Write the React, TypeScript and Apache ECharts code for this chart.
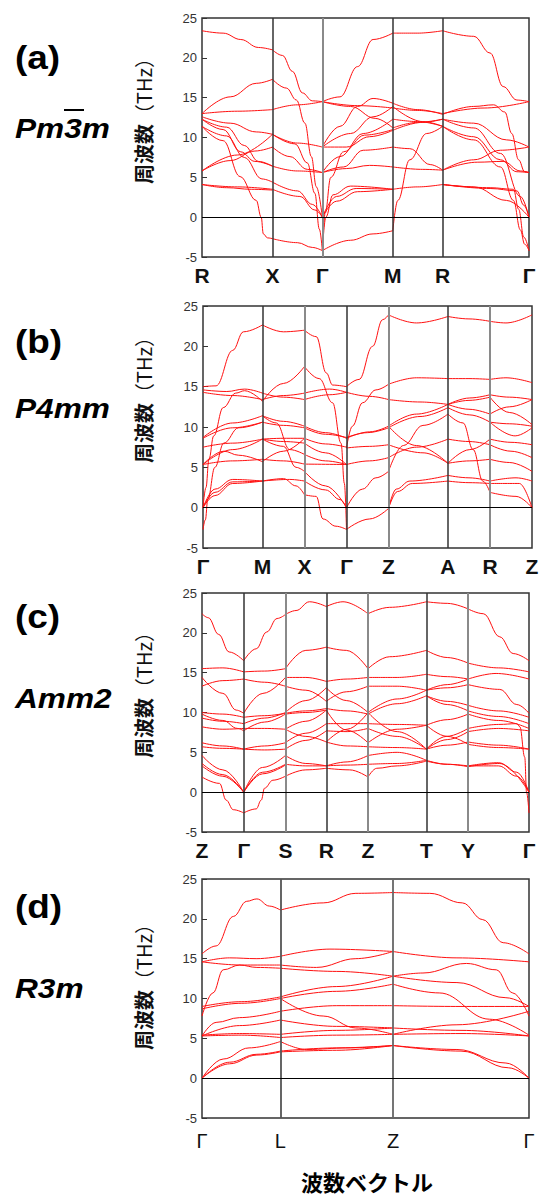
import React, { useEffect, useRef } from "react";
import * as echarts from "echarts";

// ---------- axis values ----------
const freqMin = -5;
const freqMax = 25;
const freqStep = 5;

// ---------- panel (a) Pm-3m ----------
const aLabels = ["R", "X", "Γ", "M", "R", "Γ"];
const aKpos = [0, 0.707, 1.207, 1.914, 2.414, 3.28];
// points are [segment + fraction, frequency THz]
const aSegRX = [
  [[0, 23.4], [0.3, 23.1], [0.55, 22.3], [0.8, 21.3], [1, 21.0]],
  [[0, 13.0], [0.4, 15.1], [0.77, 16.8], [1, 17.3]],
  [[0, 13.0], [0.5, 13.3], [1, 13.5]],
  [[0, 12.6], [0.4, 11.8], [0.77, 10.7], [1, 10.4]],
  [[0, 12.3], [0.35, 11.3], [0.6, 9.0], [0.8, 7.0], [1, 6.4]],
  [[0, 12.3], [0.3, 11.0], [0.55, 8.2], [0.75, 7.0], [1, 6.4]],
  [[0, 11.4], [0.35, 10.2], [0.6, 7.5], [0.85, 4.8], [1, 4.4]],
  [[0, 11.4], [0.3, 9.6], [0.54, 5.1], [0.77, 2.1], [0.84, 0], [0.87, -2.1], [0.93, -2.6], [1, -2.7]],
  [[0, 5.8], [0.5, 7.8], [1, 10.4]],
  [[0, 5.8], [0.4, 7.1], [0.75, 8.3], [1, 8.8]],
  [[0, 4.1], [0.5, 3.8], [1, 3.5]],
  [[0, 4.1], [0.35, 3.7], [0.7, 3.5], [1, 3.4]],
];
const aSegXG = [
  [[1, 21.0], [1.2, 20.3], [1.4, 18.3], [1.6, 15.6], [1.8, 14.6], [2, 14.5]],
  [[1, 17.3], [1.28, 16.2], [1.48, 14.7], [1.65, 11.8], [1.78, 7.6], [1.88, 3.8], [2, 0]],
  [[1, 13.5], [1.5, 14.1], [2, 14.5]],
  [[1, 10.4], [1.5, 9.3], [2, 8.8]],
  [[1, 8.8], [1.35, 7.6], [1.7, 6.0], [2, 5.6]],
  [[1, 6.4], [1.5, 5.8], [2, 5.6]],
  [[1, 4.4], [1.5, 3.3], [1.8, 1.6], [2, 0]],
  [[1, 3.5], [1.55, 2.6], [1.85, 0.9], [2, 0]],
  [[1, -2.7], [1.5, -3.2], [1.8, -3.8], [2, -4.2]],
  [[1, 10.4], [1.45, 9.2], [1.7, 6.8], [1.85, 3.0], [1.94, -1.5], [2, -4.2]],
];
const aSegGM = [
  [[2, 14.5], [2.25, 15.1], [2.5, 18.9], [2.72, 22.3], [3, 23.1]],
  [[2, 14.5], [2.5, 14.0], [3, 13.7]],
  [[2, 14.5], [2.4, 13.9], [2.75, 12.4], [3, 11.2]],
  [[2, 8.8], [2.25, 11.4], [2.5, 13.9], [2.72, 14.9], [3, 14.3]],
  [[2, 8.8], [2.4, 10.5], [2.72, 12.6], [3, 13.9]],
  [[2, 8.8], [2.34, 8.8], [2.67, 10.1], [3, 10.9]],
  [[2, 5.6], [2.3, 6.3], [2.58, 8.4], [3, 8.8]],
  [[2, 5.6], [2.34, 6.1], [2.67, 6.5], [3, 6.3]],
  [[2, 5.6], [2.25, 7.6], [2.58, 10.5], [3, 12.3]],
  [[2, 0], [2.2, 2.6], [2.48, 3.6], [3, 3.5]],
  [[2, 0], [2.2, 2.0], [2.5, 3.2], [3, 3.5]],
  [[2, -4.2], [2.05, 0], [2.15, 2.8], [2.4, 3.9], [3, 3.5]],
  [[2, -4.2], [2.4, -2.9], [2.72, -2.1], [3, -1.7]],
  [[2, -4.2], [2.04, 0.5], [2.12, 5.0], [2.3, 8.2], [2.6, 10.3], [3, 11.0]],
];
const aSegMR = [
  [[3, 23.1], [3.5, 23.1], [4, 23.4]],
  [[3, -1.7], [3.1, 2.1], [3.34, 7.2], [3.68, 10.5], [4, 11.4]],
  [[3, 3.5], [3.5, 3.8], [4, 4.1]],
  [[3, 6.3], [3.6, 6.0], [4, 5.9]],
  [[3, 8.8], [3.34, 8.6], [3.75, 6.6], [4, 5.9]],
  [[3, 10.9], [3.6, 11.9], [4, 12.3]],
  [[3, 11.2], [3.5, 11.9], [4, 12.3]],
  [[3, 12.3], [3.5, 12.0], [4, 11.4]],
  [[3, 13.7], [3.5, 13.4], [4, 13.0]],
  [[3, 14.3], [3.5, 13.5], [4, 12.9]],
  [[3, 13.9], [3.6, 12.0], [4, 11.4]],
];
const aSegRG = [
  [[4, 23.4], [4.36, 22.7], [4.55, 20.6], [4.7, 16.4], [4.86, 14.7], [5, 14.5]],
  [[4, 13.0], [4.48, 13.7], [5, 14.5]],
  [[4, 12.9], [4.36, 13.9], [4.59, 14.1], [4.72, 13.2], [4.8, 10.5], [4.88, 7.2], [4.95, 5.7], [5, 5.6]],
  [[4, 12.3], [4.36, 11.8], [4.74, 9.7], [5, 8.8]],
  [[4, 12.3], [4.36, 11.2], [4.67, 8.0], [4.9, 2.6], [5, 0]],
  [[4, 11.4], [4.36, 10.1], [4.67, 7.2], [4.86, 5.7], [5, 5.6]],
  [[4, 11.4], [4.36, 9.7], [4.67, 6.3], [4.82, 2.1], [4.9, -1.6], [4.95, -3.4], [5, -4.2]],
  [[4, 5.9], [4.36, 7.2], [4.67, 8.4], [5, 8.8]],
  [[4, 4.1], [4.36, 3.8], [4.74, 2.1], [5, 0]],
  [[4, 4.1], [4.55, 3.6], [4.86, 3.3], [4.94, 1.5], [5, 0]],
  [[4, 4.1], [4.55, 3.7], [4.82, 3.5], [4.88, 1.0], [4.94, -2.5], [5, -4.2]],
  [[4, 5.9], [4.4, 6.9], [4.7, 7.0], [4.9, 5.8], [5, 5.6]],
];

// ---------- panel (b) P4mm ----------
const bLabels = ["Γ", "M", "X", "Γ", "Z", "A", "R", "Z"];
const bKpos = [0, 0.707, 1.207, 1.707, 2.207, 2.914, 3.414, 3.914];
const bSegGM = [
  [[0, 15.0], [0.22, 15.1], [0.5, 19.5], [0.68, 21.8], [1, 22.65]],
  [[0, 14.6], [0.4, 14.4], [0.7, 14.7], [1, 14.2]],
  [[0, 14.3], [0.5, 13.9], [1, 13.4]],
  [[0, 0], [0.05, 2.5], [0.1, 6.0], [0.18, 8.9], [0.34, 12.4], [0.55, 14.2], [0.7, 14.5], [1, 13.2]],
  [[0, 8.7], [0.5, 10.5], [1, 11.4]],
  [[0, 8.6], [0.5, 9.9], [1, 10.6]],
  [[0, 7.5], [0.5, 8.0], [1, 8.5]],
  [[0, 5.35], [0.5, 5.8], [1, 6.0]],
  [[0, 5.35], [0.5, 7.2], [1, 8.5]],
  [[0, 5.35], [0.35, 7.0], [0.6, 6.5], [1, 5.7]],
  [[0, 0], [0.2, 2.3], [0.5, 3.5], [1, 3.3]],
  [[0, 0], [0.2, 1.9], [0.5, 3.2], [1, 3.3]],
  [[0, 0], [0.2, 1.5], [0.5, 3.0], [1, 3.3]],
  [[0, -2.7], [0.04, -1.5], [0.08, 1.0], [0.2, 5.0], [0.35, 8.0], [0.6, 9.9], [1, 10.6]],
];
const bSegMX = [
  [[1, 22.65], [1.5, 21.8], [2, 22.0]],
  [[1, 13.2], [1.5, 15.4], [2, 17.5]],
  [[1, 14.2], [1.5, 13.7], [2, 13.4]],
  [[1, 13.4], [1.5, 13.9], [2, 14.2]],
  [[1, 11.4], [1.5, 10.7], [2, 10.1]],
  [[1, 10.6], [1.5, 10.2], [2, 9.9]],
  [[1, 11.4], [1.33, 10.5], [1.65, 7.2], [2, 6.6]],
  [[1, 8.5], [1.5, 8.6], [2, 8.6]],
  [[1, 8.5], [1.5, 8.2], [2, 8.0]],
  [[1, 6.0], [1.5, 5.8], [2, 5.4]],
  [[1, 5.7], [1.5, 7.0], [2, 8.6]],
  [[1, 3.3], [1.65, 3.5], [2, 3.3]],
  [[1, 3.3], [1.5, 3.6], [1.8, 2.7], [2, 1.6]],
  [[1, 8.5], [1.5, 7.6], [1.8, 5.0], [2, 4.5]],
];
const bSegXG = [
  [[2, 22.0], [2.28, 21.2], [2.52, 16.7], [2.67, 15.2], [3, 15.0]],
  [[2, 17.5], [2.35, 16.0], [2.67, 13.0], [2.87, 8.0], [2.95, 3.0], [3, -2.7]],
  [[2, 14.2], [2.6, 14.7], [3, 14.3]],
  [[2, 13.4], [2.6, 14.0], [3, 14.3]],
  [[2, 10.1], [2.5, 9.3], [3, 8.6]],
  [[2, 9.9], [2.5, 9.1], [3, 8.7]],
  [[2, 8.6], [2.5, 7.9], [3, 7.5]],
  [[2, 8.0], [2.5, 6.8], [3, 5.35]],
  [[2, 6.6], [2.5, 5.8], [3, 5.35]],
  [[2, 5.4], [3, 5.35]],
  [[2, 4.5], [2.5, 2.7], [3, 0]],
  [[2, 3.3], [2.5, 2.2], [2.85, 1.0], [3, 0]],
  [[2, 1.6], [2.28, 1.4], [2.44, -1.4], [2.75, -2.3], [3, -2.7]],
];
const bSegGZ = [
  [[3, 15.0], [3.3, 15.9], [3.62, 20.0], [3.86, 23.3], [4, 23.9]],
  [[3, 14.3], [3.55, 13.8], [4, 13.4]],
  [[3, 7.4], [3.14, 10.1], [3.38, 13.0], [3.7, 14.6], [4, 15.3]],
  [[3, 8.6], [3.55, 9.4], [4, 10.1]],
  [[3, 8.7], [3.5, 9.3], [4, 9.9]],
  [[3, 5.35], [3.55, 5.8], [4, 6.2]],
  [[3, 0], [3.38, 2.3], [3.7, 3.7], [4, 4.5]],
  [[3, 7.4], [3.55, 7.6], [4, 7.8]],
  [[3, -2.7], [3.55, -1.4], [4, -0.1]],
];
const bSegZA = [
  [[4, 23.9], [4.47, 22.9], [5, 23.7]],
  [[4, 15.3], [4.47, 16.1], [5, 16.0]],
  [[4, 13.4], [4.53, 13.1], [5, 12.8]],
  [[4, 10.1], [4.47, 11.6], [5, 12.8]],
  [[4, 9.9], [4.53, 11.3], [5, 12.4]],
  [[4, 10.1], [4.47, 7.7], [5, 5.5]],
  [[4, 7.8], [4.58, 6.8], [5, 5.5]],
  [[4, 6.2], [4.47, 7.5], [5, 8.5]],
  [[4, 4.5], [4.25, 7.7], [4.58, 10.2], [5, 11.6]],
  [[4, -0.1], [4.13, 2.3], [4.36, 3.3], [5, 4.0]],
  [[4, -0.1], [4.15, 2.0], [4.4, 3.0], [5, 3.3]],
];
const bSegAR = [
  [[5, 23.7], [5.5, 23.4], [6, 23.1]],
  [[5, 16.0], [5.5, 16.0], [6, 15.9]],
  [[5, 12.8], [5.52, 13.6], [6, 14.0]],
  [[5, 12.8], [5.5, 13.3], [6, 13.7]],
  [[5, 12.4], [5.52, 11.5], [6, 10.6]],
  [[5, 11.6], [5.36, 10.5], [5.6, 7.2], [5.83, 3.3], [6, 1.9]],
  [[5, 5.5], [5.52, 5.8], [6, 6.0]],
  [[5, 5.5], [5.52, 7.2], [6, 8.5]],
  [[5, 8.5], [5.5, 8.2], [6, 7.8]],
  [[5, 4.0], [5.5, 3.7], [6, 3.3]],
  [[5, 3.3], [5.5, 3.1], [6, 3.0]],
  [[5, 12.8], [5.5, 12.2], [6, 11.6]],
];
const bSegRZ = [
  [[6, 23.1], [6.38, 22.9], [7, 23.9]],
  [[6, 15.9], [6.38, 16.1], [7, 15.5]],
  [[6, 14.0], [6.46, 13.7], [7, 13.4]],
  [[6, 13.7], [6.46, 11.8], [7, 10.3]],
  [[6, 10.6], [6.46, 10.4], [7, 10.1]],
  [[6, 10.6], [6.6, 8.9], [7, 9.9]],
  [[6, 8.5], [6.5, 8.1], [7, 7.8]],
  [[6, 7.8], [6.5, 7.0], [7, 6.2]],
  [[6, 6.0], [6.46, 5.6], [7, 4.5]],
  [[6, 3.3], [6.62, 3.7], [7, 3.3]],
  [[6, 1.9], [6.62, 1.4], [7, 0]],
  [[6, 3.0], [6.7, 3.0], [7, 0]],
  [[6, 11.6], [6.46, 12.5], [7, 13.4]],
];

// ---------- panel (c) Amm2 ----------
const cLabels = ["Z", "Γ", "S", "R", "Z", "T", "Y", "Γ"];
const cKpos = [0, 0.5, 1.0, 1.49, 1.99, 2.69, 3.19, 3.92];
const cSegZG = [
  [[0, 22.4], [0.15, 21.9], [0.4, 19.8], [0.65, 17.6], [1, 16.5]],
  [[0, 15.5], [0.5, 15.6], [1, 15.1]],
  [[0, 14.4], [0.5, 12.4], [0.82, 10.3], [1, 9.9]],
  [[0, 13.3], [0.5, 14.0], [1, 14.2]],
  [[0, 10.0], [0.5, 9.8], [1, 9.4]],
  [[0, 9.8], [0.5, 9.0], [0.85, 8.0], [1, 7.7]],
  [[0, 9.3], [0.5, 8.9], [1, 8.6]],
  [[0, 8.2], [0.5, 7.9], [1, 8.0]],
  [[0, 6.2], [0.5, 5.8], [1, 5.4]],
  [[0, 5.7], [0.5, 5.5], [1, 5.4]],
  [[0, 4.6], [0.5, 2.8], [1, 0]],
  [[0, 3.6], [0.5, 2.2], [1, 0]],
  [[0, 3.3], [0.5, 2.0], [1, 0]],
  [[0, 1.9], [0.42, 1.1], [0.58, -1.0], [0.75, -2.2], [1, -2.6]],
];
const cSegGS = [
  [[1, 16.5], [1.3, 18.0], [1.55, 20.1], [1.8, 21.8], [2, 22.3]],
  [[1, 15.1], [1.5, 15.2], [2, 15.5]],
  [[1, 14.2], [1.5, 13.8], [2, 13.3]],
  [[1, 9.9], [1.46, 12.4], [2, 14.4]],
  [[1, 9.4], [1.5, 9.6], [2, 9.9]],
  [[1, 8.6], [1.5, 9.3], [2, 10.0]],
  [[1, 7.7], [1.5, 8.8], [2, 9.8]],
  [[1, 8.0], [1.5, 8.0], [2, 7.9]],
  [[1, 5.4], [1.5, 5.8], [2, 6.2]],
  [[1, 5.4], [1.5, 5.3], [2, 5.4]],
  [[1, 0], [1.45, 3.1], [2, 4.6]],
  [[1, 0], [1.45, 2.5], [2, 3.5]],
  [[1, 0], [1.45, 2.3], [2, 3.4]],
  [[1, -2.6], [1.3, -2.1], [1.42, -1.0], [1.5, 0.5], [1.7, 1.5], [2, 2.0]],
];
const cSegSR = [
  [[2, 22.3], [2.26, 22.8], [2.59, 23.9], [3, 23.3]],
  [[2, 15.5], [2.5, 17.8], [3, 18.2]],
  [[2, 14.4], [2.5, 14.4], [3, 13.9]],
  [[2, 13.3], [2.5, 12.8], [3, 11.4]],
  [[2, 10.0], [2.5, 11.5], [3, 13.1]],
  [[2, 9.9], [2.5, 10.2], [3, 10.5]],
  [[2, 9.8], [2.5, 10.0], [3, 10.3]],
  [[2, 7.9], [2.5, 8.9], [3, 10.3]],
  [[2, 6.2], [2.5, 7.4], [3, 8.6]],
  [[2, 5.4], [2.5, 6.5], [3, 7.7]],
  [[2, 7.9], [2.5, 7.0], [3, 6.3]],
  [[2, 4.6], [2.5, 3.6], [3, 3.3]],
  [[2, 3.5], [2.5, 3.3], [3, 3.3]],
  [[2, 2.0], [2.5, 2.8], [3, 3.0]],
];
const cSegRZ = [
  [[3, 23.3], [3.4, 23.9], [4, 22.4]],
  [[3, 18.2], [3.48, 17.8], [4, 15.5]],
  [[3, 13.9], [3.5, 14.2], [4, 14.4]],
  [[3, 13.1], [3.48, 11.5], [4, 10.0]],
  [[3, 11.4], [3.48, 12.6], [4, 13.3]],
  [[3, 10.5], [3.5, 10.2], [4, 9.8]],
  [[3, 10.3], [3.48, 7.8], [4, 6.2]],
  [[3, 8.6], [3.5, 8.6], [4, 8.6]],
  [[3, 7.7], [3.5, 7.6], [4, 8.0]],
  [[3, 6.3], [3.5, 7.9], [4, 10.0]],
  [[3, 6.3], [3.5, 5.8], [4, 5.7]],
  [[3, 3.3], [3.5, 3.8], [4, 4.6]],
  [[3, 3.3], [3.5, 3.4], [4, 3.5]],
  [[3, 3.0], [3.56, 2.8], [4, 1.9]],
];
const cSegZT = [
  [[4, 22.4], [4.37, 23.2], [5, 23.9]],
  [[4, 15.5], [4.37, 17.0], [5, 17.8]],
  [[4, 14.4], [4.5, 14.4], [5, 14.8]],
  [[4, 13.3], [4.5, 13.3], [5, 12.8]],
  [[4, 10.0], [4.5, 11.7], [5, 12.8]],
  [[4, 9.8], [4.5, 11.1], [5, 12.1]],
  [[4, 8.6], [4.5, 8.5], [5, 8.4]],
  [[4, 8.0], [4.5, 7.0], [5, 5.4]],
  [[4, 6.2], [4.5, 7.9], [5, 8.4]],
  [[4, 5.7], [4.5, 5.6], [5, 5.4]],
  [[4, 10.0], [4.5, 7.6], [5, 5.4]],
  [[4, 4.6], [4.5, 5.0], [5, 4.0]],
  [[4, 3.5], [4.5, 3.6], [5, 4.0]],
  [[4, 1.9], [4.15, 3.0], [4.5, 3.3], [5, 3.9]],
];
const cSegTY = [
  [[5, 23.9], [5.5, 23.7], [6, 23.0]],
  [[5, 17.8], [5.5, 16.9], [6, 16.2]],
  [[5, 14.8], [5.5, 14.5], [6, 14.2]],
  [[5, 12.8], [5.5, 13.5], [6, 14.2]],
  [[5, 12.8], [5.5, 13.1], [6, 13.5]],
  [[5, 12.1], [5.5, 11.4], [6, 10.9]],
  [[5, 12.1], [5.5, 11.0], [6, 10.2]],
  [[5, 8.4], [5.5, 9.1], [6, 9.8]],
  [[5, 5.4], [5.48, 7.0], [6, 8.0]],
  [[5, 5.4], [5.5, 6.6], [6, 7.6]],
  [[5, 5.4], [5.5, 5.9], [6, 6.3]],
  [[5, 8.4], [5.5, 7.0], [6, 6.0]],
  [[5, 4.0], [5.5, 3.5], [6, 3.2]],
  [[5, 3.9], [5.5, 3.5], [6, 3.3]],
];
const cSegYG = [
  [[6, 23.0], [6.25, 22.4], [6.52, 19.5], [6.74, 17.4], [7, 16.5]],
  [[6, 16.2], [6.5, 15.6], [7, 15.1]],
  [[6, 14.2], [6.46, 14.9], [7, 14.2]],
  [[6, 13.5], [6.52, 12.9], [6.8, 11.0], [7, 9.9]],
  [[6, 10.9], [6.5, 10.2], [7, 9.4]],
  [[6, 10.2], [6.5, 9.5], [7, 8.6]],
  [[6, 9.8], [6.5, 9.0], [7, 8.0]],
  [[6, 7.6], [6.5, 8.0], [7, 7.7]],
  [[6, 8.0], [6.5, 8.5], [6.8, 8.6], [6.85, 8.2], [6.93, 4.4], [6.96, 0], [7, -2.6]],
  [[6, 6.3], [6.5, 5.9], [7, 5.4]],
  [[6, 6.0], [6.5, 5.6], [7, 5.4]],
  [[6, 3.2], [6.52, 3.6], [7, 0]],
  [[6, 3.3], [6.5, 3.7], [6.8, 2.5], [7, 0]],
  [[6, 3.3], [6.5, 3.3], [6.8, 2.0], [7, 0]],
];

// ---------- panel (d) R3m ----------
const dLabels = ["Γ", "L", "Z", "Γ"];
const dKpos = [0, 0.94, 2.29, 3.92];
const dSegGL = [
  [[0, 15.6], [0.18, 16.6], [0.4, 20.3], [0.57, 22.2], [0.7, 22.5], [0.86, 21.6], [1, 21.1]],
  [[0, 14.6], [0.35, 15.1], [0.7, 15.0], [1, 15.3]],
  [[0, 14.6], [0.5, 14.2], [1, 14.2]],
  [[0, 7.8], [0.14, 10.7], [0.27, 13.6], [0.48, 14.2], [0.7, 13.9], [1, 13.8]],
  [[0, 9.0], [0.5, 9.6], [1, 10.2]],
  [[0, 8.7], [0.5, 9.4], [1, 10.0]],
  [[0, 5.3], [0.18, 7.0], [0.48, 7.6], [1, 8.4]],
  [[0, 5.3], [0.48, 6.6], [1, 7.3]],
  [[0, 5.4], [0.48, 5.6], [1, 5.5]],
  [[0, 5.3], [0.5, 5.4], [1, 5.1]],
  [[0, 0], [0.27, 2.4], [0.6, 3.8], [1, 4.6]],
  [[0, 0], [0.35, 2.0], [0.7, 3.0], [1, 3.4]],
  [[0, 0], [0.35, 1.8], [0.7, 2.9], [1, 3.3]],
];
const dSegLZ = [
  [[1, 21.1], [1.38, 22.0], [1.67, 23.2], [2, 23.3]],
  [[1, 15.3], [1.44, 16.2], [2, 15.9]],
  [[1, 14.2], [1.32, 13.9], [1.67, 15.0], [2, 15.9]],
  [[1, 13.8], [1.5, 13.4], [2, 12.8]],
  [[1, 10.2], [1.5, 11.5], [2, 12.8]],
  [[1, 10.0], [1.5, 10.9], [2, 11.8]],
  [[1, 10.0], [1.38, 7.8], [1.67, 6.3], [2, 5.5]],
  [[1, 8.4], [1.5, 9.1], [2, 9.1]],
  [[1, 7.3], [1.5, 6.5], [2, 6.3]],
  [[1, 5.5], [1.5, 6.0], [2, 6.3]],
  [[1, 5.1], [1.5, 5.4], [2, 5.5]],
  [[1, 4.6], [1.23, 3.6], [1.6, 3.8], [2, 4.1]],
  [[1, 3.4], [1.5, 3.8], [2, 4.1]],
  [[1, 3.3], [1.5, 3.5], [2, 4.1]],
];
const dSegZG = [
  [[2, 23.3], [2.27, 23.2], [2.51, 22.0], [2.66, 19.9], [2.81, 17.0], [3, 15.6]],
  [[2, 15.9], [2.47, 15.1], [3, 14.6]],
  [[2, 12.8], [2.22, 13.2], [2.54, 14.4], [2.76, 13.6], [2.88, 10.7], [3, 7.8]],
  [[2, 12.8], [2.47, 12.0], [2.83, 10.1], [3, 9.0]],
  [[2, 11.8], [2.34, 10.7], [2.71, 7.4], [3, 5.4]],
  [[2, 9.1], [2.5, 9.0], [3, 9.0]],
  [[2, 5.5], [2.47, 6.7], [3, 8.4]],
  [[2, 5.5], [2.5, 5.6], [3, 5.3]],
  [[2, 6.3], [2.5, 6.0], [3, 5.3]],
  [[2, 4.1], [2.47, 3.6], [2.83, 1.9], [3, 0]],
  [[2, 4.1], [2.5, 3.4], [2.85, 1.3], [3, 0]],
];

// ---------- text ----------
const panelTags = ["(a)", "(b)", "(c)", "(d)"];
const spaceGroups = ["Pm3m", "P4mm", "Amm2", "R3m"];
const yNameCjk = "周波数";
const yNameUnit = "（THz）";
const xTitle = "波数ベクトル";

// ---------- layout / style (not data) ----------
const LATIN = "'Liberation Sans', Arial, Helvetica, sans-serif";
const CJK = "'Noto Sans CJK JP', 'Noto Sans CJK SC', sans-serif";
const DARK = { color: "#333", width: 1.5 };
const GRAY = { color: "#8a8a8a", width: 2 };

const panels = [
  {
    labels: aLabels, kpos: aKpos,
    bands: [...aSegRX, ...aSegXG, ...aSegGM, ...aSegMR, ...aSegRG],
    grid: { left: 202, top: 18, width: 327, height: 239 },
    vl: [DARK, GRAY, DARK, DARK],
    tagY: 57, sgY: 128, nameY: 116, bold: true,
  },
  {
    labels: bLabels, kpos: bKpos,
    bands: [...bSegGM, ...bSegMX, ...bSegXG, ...bSegGZ, ...bSegZA, ...bSegAR, ...bSegRZ],
    grid: { left: 203, top: 306, width: 329, height: 242 },
    vl: [DARK, GRAY, DARK, GRAY, DARK, GRAY],
    tagY: 341, sgY: 408, nameY: 395, bold: true,
  },
  {
    labels: cLabels, kpos: cKpos,
    bands: [...cSegZG, ...cSegGS, ...cSegSR, ...cSegRZ, ...cSegZT, ...cSegTY, ...cSegYG],
    grid: { left: 202, top: 593, width: 327, height: 239 },
    vl: [DARK, GRAY, DARK, GRAY, DARK, GRAY],
    tagY: 616, sgY: 698, nameY: 690, bold: true,
  },
  {
    labels: dLabels, kpos: dKpos,
    bands: [...dSegGL, ...dSegLZ, ...dSegZG],
    grid: { left: 202, top: 879, width: 327, height: 239 },
    vl: [{ color: "#555", width: 1.8 }, { color: "#666", width: 1.8 }],
    tagY: 906, sgY: 988, nameY: 982, bold: false,
  },
];

function toK(kpos: number[], s: number): number {
  const nSeg = kpos.length - 1;
  let seg = Math.floor(s);
  if (seg >= nSeg) seg = nSeg - 1;
  if (seg < 0) seg = 0;
  const t = s - seg;
  return kpos[seg] + t * (kpos[seg + 1] - kpos[seg]);
}

function buildOption() {
  const grid: any[] = [];
  const xAxis: any[] = [];
  const yAxis: any[] = [];
  const series: any[] = [];
  const graphic: any[] = [];

  panels.forEach((p, i) => {
    grid.push({ ...p.grid, show: true, borderColor: "#333", borderWidth: 1.5, backgroundColor: "transparent", containLabel: false });
    const kp = p.kpos;
    const lbl = p.labels;
    xAxis.push({
      type: "value", gridIndex: i, min: 0, max: kp[kp.length - 1],
      axisLine: { show: false }, axisTick: { show: false }, splitLine: { show: false },
      axisLabel: {
        customValues: kp,
        formatter: (v: number) => {
          let best = 0;
          kp.forEach((q, j) => { if (Math.abs(q - v) < Math.abs(kp[best] - v)) best = j; });
          return lbl[best];
        },
        fontSize: p.bold ? 21 : 20,
        fontWeight: p.bold ? "bold" : "normal",
        fontFamily: LATIN,
        color: "#111",
        margin: p.bold ? 8 : 13,
        showMinLabel: true, showMaxLabel: true,
      },
    });
    yAxis.push({
      type: "value", gridIndex: i, min: freqMin, max: freqMax, interval: freqStep,
      axisLine: { show: false },
      axisTick: { show: true, inside: true, length: 5, lineStyle: { color: "#333", width: 1 } },
      splitLine: { show: false },
      axisLabel: { fontSize: 13, color: "#333", fontFamily: LATIN, margin: 5 },
    });

    const vlines = kp.slice(1, -1).map((v, j) => ({
      xAxis: v,
      lineStyle: { color: p.vl[j].color, width: p.vl[j].width, type: "solid" },
    }));
    series.push({
      type: "line", xAxisIndex: i, yAxisIndex: i, data: [], silent: true, z: 1,
      markLine: {
        silent: true, symbol: ["none", "none"], label: { show: false },
        animation: false,
        data: [...vlines, { yAxis: 0, lineStyle: { color: "#000", width: 1, type: "solid" } }],
      },
    });

    p.bands.forEach((band) => {
      series.push({
        type: "line", xAxisIndex: i, yAxisIndex: i, silent: true, z: 3,
        data: band.map(([s, f]) => [toK(kp, s), f]),
        showSymbol: false, symbol: "none",
        smooth: 0.4, smoothMonotone: "x",
        lineStyle: { color: "#ff1010", width: 1 },
      });
    });

    // panel tag
    graphic.push({
      type: "text", x: 15, y: p.tagY, scaleX: 1.12,
      style: { text: panelTags[i], font: `bold 33px ${LATIN}`, fill: "#000", align: "left", verticalAlign: "middle" },
    });
    // space group
    graphic.push({
      type: "text", x: 15, y: p.sgY, scaleX: 1.13,
      style: { text: spaceGroups[i], font: `italic bold 28px ${LATIN}`, fill: "#000", align: "left", verticalAlign: "middle" },
    });
    // y-axis name
    graphic.push({
      type: "text", x: 143, y: p.nameY, rotation: Math.PI / 2,
      style: {
        text: `{c|${yNameCjk}}{u|${yNameUnit}}`,
        fill: "#111", align: "center", verticalAlign: "middle",
        rich: {
          c: { fontFamily: CJK, fontSize: 20, fontWeight: "bold", fill: "#111" },
          u: { fontFamily: CJK, fontSize: 20, fontWeight: "normal", fill: "#111" },
        },
      },
    });
  });

  // overline on the 3 of Pm-3m
  graphic.push({
    type: "line", shape: { x1: 64, y1: 110, x2: 84, y2: 110 },
    style: { stroke: "#000", lineWidth: 2 },
  });
  // x title
  graphic.push({
    type: "text", x: 367, y: 1181,
    style: { text: xTitle, font: `bold 22px ${CJK}`, fill: "#000", align: "center", verticalAlign: "middle" },
  });

  return { animation: false, backgroundColor: "#fff", grid, xAxis, yAxis, series, graphic };
}

export default function App() {
  const ref = useRef<HTMLDivElement>(null);
  useEffect(() => {
    if (!ref.current) return;
    const chart = echarts.init(ref.current, undefined, { renderer: "svg" });
    chart.setOption(buildOption() as any);
    return () => chart.dispose();
  }, []);
  return <div ref={ref} style={{ position: "absolute", left: 0, top: 0, width: 542, height: 1198 }} />;
}
